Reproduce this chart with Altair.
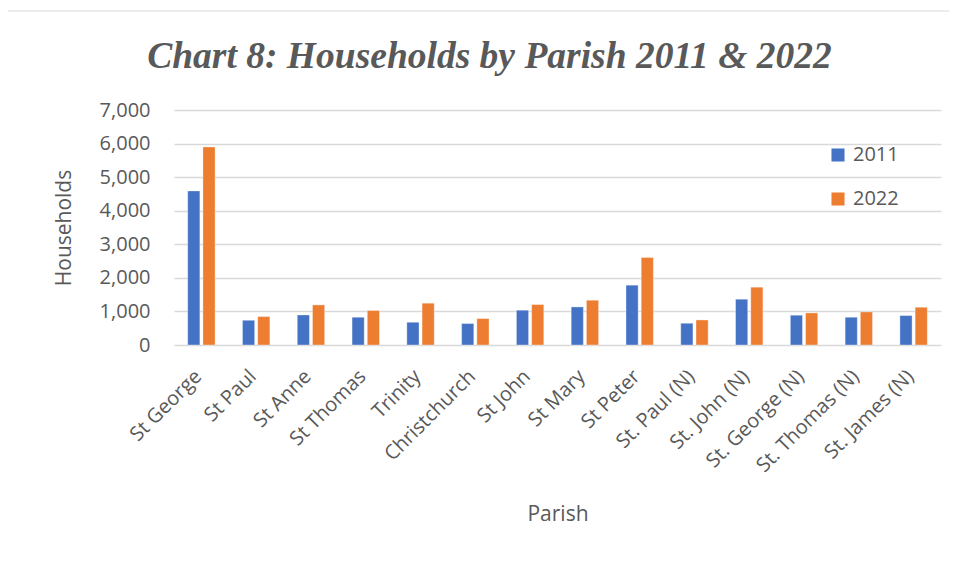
import altair as alt
import pandas as pd

parishes = ["St George", "St Paul", "St Anne", "St Thomas", "Trinity", "Christchurch",
            "St John", "St Mary", "St Peter", "St. Paul (N)", "St. John (N)",
            "St. George (N)", "St. Thomas (N)", "St. James (N)"]
hh_2011 = [4590, 737, 896, 827, 678, 639, 1036, 1134, 1782, 648, 1364, 887, 827, 877]
hh_2022 = [5900, 847, 1194, 1027, 1245, 788, 1206, 1334, 2609, 746, 1722, 955, 985, 1125]
years = ["2011", "2022"]
colors = ["#4472C4", "#ED7D31"]
y_ticks = [0, 1000, 2000, 3000, 4000, 5000, 6000, 7000]

rows = []
for p, a, b in zip(parishes, hh_2011, hh_2022):
    rows.append({"Parish": p, "Year": "2011", "Households": a})
    rows.append({"Parish": p, "Year": "2022", "Households": b})
df = pd.DataFrame(rows)

W, H = 767, 235
grey = "#595959"
font = "Open Sans"

frame = alt.Chart(pd.DataFrame({"a": [0]})).mark_rect(
    fill=None, stroke="#d9d9d9", strokeWidth=1
).encode(
    x=alt.value(-169), x2=alt.value(790), y=alt.value(-99), y2=alt.value(470)
)

bars = alt.Chart(df).mark_bar(stroke="white", strokeWidth=0.6, strokeOpacity=0.6).encode(
    x=alt.X("Parish:N", sort=parishes,
            scale=alt.Scale(paddingInner=0.5, paddingOuter=0.25),
            axis=alt.Axis(title="Parish", labelAngle=-45, labelAlign="right",
                          labelBaseline="middle", labelFontSize=20, labelColor=grey,
                          labelFont=font, ticks=False, domain=False,
                          labelPadding=28, labelOffset=-3,
                          titleFontSize=21, titleColor=grey,
                          titleFont=font, titleFontWeight="normal",
                          titlePadding=28, labelLimit=300)),
    xOffset=alt.XOffset("Year:N", sort=years, scale=alt.Scale(paddingInner=0.2)),
    y=alt.Y("Households:Q", scale=alt.Scale(domain=[0, 7000], nice=False),
            axis=alt.Axis(title="Households", values=y_ticks, format=",.0f",
                          labelFontSize=20, labelColor=grey, labelFont=font,
                          ticks=False, domain=False, labelPadding=24,
                          gridColor="#d9d9d9", gridWidth=1.5,
                          titleFontSize=21, titleColor=grey, titleFont=font,
                          titleFontWeight="normal", titlePadding=25)),
    color=alt.Color("Year:N", sort=years,
                    scale=alt.Scale(domain=years, range=colors),
                    legend=alt.Legend(title=None, orient="none", legendX=654, legendY=35,
                                      symbolType="square", symbolSize=170,
                                      symbolStrokeWidth=0, labelFontSize=20,
                                      labelColor=grey, labelFont=font,
                                      rowPadding=24, labelOffset=5)),
)

chart = alt.layer(frame, bars).properties(
    width=W, height=H,
    title=alt.TitleParams("Chart 8: Households by Parish 2011 & 2022",
                          font="Liberation Serif", fontSize=37.5, fontStyle="italic",
                          fontWeight="bold", color=grey, anchor="middle", dx=-68,
                          offset=38, dy=103),
    autosize=alt.AutoSizeParams(type="none"),
    padding={"left": 166, "top": 102, "right": 8, "bottom": 220},
    background="white",
).configure_view(stroke=None)

chart.save("out.html", embed_options={"renderer": "svg", "actions": False})
